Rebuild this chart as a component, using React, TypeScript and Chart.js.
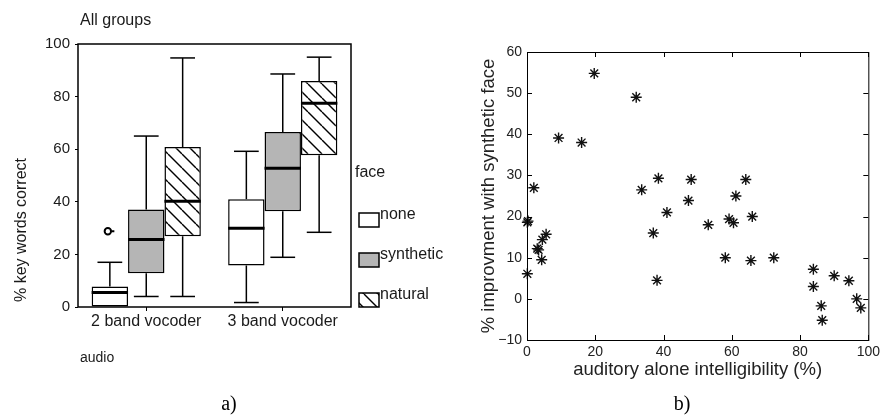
import React, { useEffect, useRef } from 'react';
import { Chart, registerables } from 'chart.js';
Chart.register(...registerables);

// ---------- panel a) box plot data ----------
const audioGroups = ['2 band vocoder', '3 band vocoder'];
const faceLabels = ['none', 'synthetic', 'natural'];
const yTicksA = [0, 20, 40, 60, 80, 100];

const noneMin = [0, 1.7];
const noneQ1 = [0, 15.8];
const noneMedian = [5.5, 29.9];
const noneQ3 = [7.8, 41];
const noneMax = [17, 59.2];
const noneOutlier = [28.8, null];

const synthMin = [4, 18.9];
const synthQ1 = [12.8, 36.4];
const synthMedian = [25.7, 52.8];
const synthQ3 = [37.1, 66.5];
const synthMax = [65, 88.6];

const naturalMin = [4, 28.4];
const naturalQ1 = [26.9, 57.7];
const naturalMedian = [40.2, 77.5];
const naturalQ3 = [60.8, 85.9];
const naturalMax = [94.7, 95];

// ---------- panel b) scatter data ----------
const intelligibility = [19.7, 32.0, 9.25, 16.0, 2.0, 0.1, 0.3, 0.1, 3.0, 3.4, 4.3, 4.5, 5.6, 33.6, 38.5, 48.1, 47.3, 41.0, 37.0, 38.1, 53.1, 59.2, 60.5, 61.2, 64.1, 66.0, 58.1, 65.6, 72.3, 83.9, 83.9, 86.2, 86.5, 90.0, 94.3, 96.6, 97.8];
const improvement = [54.8, 49.0, 39.1, 38.0, 27.0, 18.6, 18.9, 6.1, 12.2, 11.9, 9.5, 14.4, 15.7, 26.5, 29.3, 29.0, 23.9, 21.0, 16.0, 4.5, 18.0, 19.4, 18.5, 25.0, 29.0, 20.0, 10.0, 9.3, 10.0, 7.2, 3.0, -1.7, -5.2, 5.6, 4.4, 0.0, -2.2];

const SANS = '"Liberation Sans", Arial, Helvetica, sans-serif';
const SERIF = '"Liberation Serif", "DejaVu Serif", serif';

function makeHatch(): CanvasPattern | string {
  const s = 14;
  const c = document.createElement('canvas');
  c.width = s;
  c.height = s;
  const g = c.getContext('2d');
  if (!g) return '#fff';
  g.fillStyle = '#fff';
  g.fillRect(0, 0, s, s);
  g.strokeStyle = '#000';
  g.lineWidth = 1.4;
  for (const k of [-s, 0, s]) {
    g.beginPath();
    g.moveTo(k, 0);
    g.lineTo(k + s, s);
    g.stroke();
  }
  return g.createPattern(c, 'repeat') || '#fff';
}

function leftConfig(): any {
  const hatch = makeHatch();
  const stats = [
    [noneMin, noneQ1, noneMedian, noneQ3, noneMax],
    [synthMin, synthQ1, synthMedian, synthQ3, synthMax],
    [naturalMin, naturalQ1, naturalMedian, naturalQ3, naturalMax],
  ];
  const fills: any[] = ['#ffffff', '#b5b5b5', hatch];
  const boxPlugin = {
    id: 'boxWhiskers',
    afterDatasetsDraw(chart: any) {
      const ctx = chart.ctx;
      const ys = chart.scales.y;
      ctx.save();
      ctx.strokeStyle = '#000';
      chart.data.datasets.forEach((_ds: any, i: number) => {
        const meta = chart.getDatasetMeta(i);
        meta.data.forEach((el: any, j: number) => {
          const { x, width } = el.getProps(['x', 'width'], true);
          const [mn, q1, md, q3, mx] = stats[i].map((a) => a[j]);
          const cap = width * 0.34;
          ctx.lineWidth = 1.5;
          const seg = (x1: number, y1: number, x2: number, y2: number) => {
            ctx.beginPath();
            ctx.moveTo(x1, y1);
            ctx.lineTo(x2, y2);
            ctx.stroke();
          };
          if (mx > q3) {
            seg(x, ys.getPixelForValue(q3), x, ys.getPixelForValue(mx));
            seg(x - cap, ys.getPixelForValue(mx), x + cap, ys.getPixelForValue(mx));
          }
          if (mn < q1) {
            seg(x, ys.getPixelForValue(q1), x, ys.getPixelForValue(mn));
            seg(x - cap, ys.getPixelForValue(mn), x + cap, ys.getPixelForValue(mn));
          }
          ctx.lineWidth = 3;
          seg(x - width / 2, ys.getPixelForValue(md), x + width / 2, ys.getPixelForValue(md));
          if (i === 0 && noneOutlier[j] != null) {
            const oy = ys.getPixelForValue(noneOutlier[j] as number);
            ctx.lineWidth = 2;
            ctx.beginPath();
            ctx.arc(x - 2, oy, 3.2, 0, Math.PI * 2);
            ctx.stroke();
            seg(x + 1.5, oy, x + 4.5, oy);
          }
        });
      });
      ctx.restore();
    },
    afterDraw(chart: any) {
      const ctx = chart.ctx;
      const a = chart.chartArea;
      ctx.save();
      ctx.strokeStyle = '#000';
      ctx.lineWidth = 1.5;
      ctx.strokeRect(a.left, a.top, a.right - a.left, a.bottom - a.top);
      ctx.fillStyle = '#1a1a1a';
      ctx.font = `16px ${SANS}`;
      ctx.textAlign = 'left';
      ctx.textBaseline = 'alphabetic';
      ctx.fillText('All groups', 80, 25);
      ctx.textBaseline = 'middle';
      ctx.fillText('face', 355, 173);
      ctx.font = `14px ${SANS}`;
      ctx.fillText('audio', 80, 358);
      // legend
      const tops = [213, 253, 293];
      faceLabels.forEach((lab, i) => {
        ctx.fillStyle = fills[i];
        ctx.fillRect(359, tops[i], 20, 14);
        ctx.lineWidth = 1.5;
        ctx.strokeStyle = '#000';
        ctx.strokeRect(359, tops[i], 20, 14);
        ctx.fillStyle = '#1a1a1a';
        ctx.font = `16px ${SANS}`;
        ctx.textBaseline = 'middle';
        ctx.fillText(lab, 380, tops[i] + 2);
      });
      // y title
      ctx.save();
      ctx.translate(22, 230);
      ctx.rotate(-Math.PI / 2);
      ctx.textAlign = 'center';
      ctx.textBaseline = 'middle';
      ctx.font = `16px ${SANS}`;
      ctx.fillText('% key words correct', 0, 0);
      ctx.restore();
      // panel label
      ctx.font = `20px ${SERIF}`;
      ctx.textAlign = 'center';
      ctx.textBaseline = 'middle';
      ctx.fillStyle = '#000';
      ctx.fillText('a)', 229, 405);
      ctx.restore();
    },
  };

  const dataset = (label: string, q1: number[], q3: number[], fill: any) => ({
    label,
    data: q1.map((v, k) => [v, q3[k]]),
    backgroundColor: fill,
    borderColor: '#000',
    borderWidth: 1.5,
    borderSkipped: false,
    categoryPercentage: 0.8,
    barPercentage: 1.0,
  });

  return {
    type: 'bar',
    data: {
      labels: audioGroups,
      datasets: [
        dataset(faceLabels[0], noneQ1, noneQ3, fills[0]),
        dataset(faceLabels[1], synthQ1, synthQ3, fills[1]),
        dataset(faceLabels[2], naturalQ1, naturalQ3, fills[2]),
      ],
    },
    options: {
      responsive: false,
      animation: false,
      devicePixelRatio: 1,
      layout: { padding: { left: 0, top: 44, right: 109, bottom: 0 } },
      plugins: { legend: { display: false }, tooltip: { enabled: false } },
      scales: {
        x: {
          grid: { display: true, drawOnChartArea: false, drawTicks: true, tickLength: 4, color: '#000', offset: false },
          border: { display: false },
          ticks: { color: '#1a1a1a', font: { family: SANS, size: 16 }, padding: 1, maxRotation: 0 },
          afterFit: (s: any) => { s.height = 109; },
        },
        y: {
          min: 0,
          max: 100,
          afterBuildTicks: (s: any) => { s.ticks = yTicksA.map((v) => ({ value: v })); },
          grid: { display: true, drawOnChartArea: false, drawTicks: true, tickLength: 3, color: '#000' },
          border: { display: false },
          ticks: { color: '#1a1a1a', font: { family: SANS, size: 15 }, padding: 5 },
          afterFit: (s: any) => { s.width = 78; },
        },
      },
    },
    plugins: [boxPlugin],
  };
}

function rightConfig(): any {
  const framePlugin = {
    id: 'matlabFrame',
    afterDraw(chart: any) {
      const ctx = chart.ctx;
      const a = chart.chartArea;
      const xs = chart.scales.x;
      const ys = chart.scales.y;
      ctx.save();
      ctx.strokeStyle = '#000';
      ctx.lineWidth = 1;
      ctx.strokeRect(a.left + 0.5, a.top + 0.5, a.right - a.left, a.bottom - a.top);
      const tl = 5;
      xs.ticks.forEach((t: any) => {
        const px = Math.round(xs.getPixelForValue(t.value)) + 0.5;
        ctx.beginPath();
        ctx.moveTo(px, a.bottom);
        ctx.lineTo(px, a.bottom - tl);
        ctx.moveTo(px, a.top);
        ctx.lineTo(px, a.top + tl);
        ctx.stroke();
      });
      ys.ticks.forEach((t: any) => {
        const py = Math.round(ys.getPixelForValue(t.value)) + 0.5;
        ctx.beginPath();
        ctx.moveTo(a.left, py);
        ctx.lineTo(a.left + tl, py);
        ctx.moveTo(a.right, py);
        ctx.lineTo(a.right - tl, py);
        ctx.stroke();
      });
      ctx.fillStyle = '#000';
      ctx.font = `20px ${SERIF}`;
      ctx.textAlign = 'center';
      ctx.textBaseline = 'middle';
      ctx.fillText('b)', 222, 405);
      ctx.restore();
    },
  };

  return {
    type: 'scatter',
    data: {
      datasets: [
        {
          label: 'subjects',
          data: intelligibility.map((x, i) => ({ x, y: improvement[i] })),
          pointStyle: 'star',
          pointRadius: 5.5,
          borderColor: '#111',
          backgroundColor: 'rgba(0,0,0,0)',
          borderWidth: 1.4,
          clip: false,
        },
      ],
    },
    options: {
      responsive: false,
      animation: false,
      devicePixelRatio: 1,
      layout: { padding: { left: 0, top: 52, right: 11, bottom: 0 } },
      plugins: { legend: { display: false }, tooltip: { enabled: false } },
      scales: {
        x: {
          type: 'linear',
          min: 0,
          max: 100,
          ticks: { stepSize: 20, color: '#222', font: { family: SANS, size: 14 }, padding: 4, maxRotation: 0 },
          grid: { display: false, drawTicks: false },
          border: { display: false },
          title: {
            display: true,
            text: 'auditory alone intelligibility (%)',
            color: '#222',
            font: { family: SANS, size: 18.5, lineHeight: 1.2 },
            padding: { top: 0, bottom: 35 },
          },
          afterFit: (s: any) => { s.height = 76; },
        },
        y: {
          type: 'linear',
          min: -10,
          max: 60,
          ticks: {
            stepSize: 10,
            color: '#222',
            font: { family: SANS, size: 14 },
            padding: 5,
            callback: (v: any) => (v < 0 ? '\u2212' + Math.abs(v) : String(v)),
          },
          grid: { display: false, drawTicks: false },
          border: { display: false },
          title: {
            display: true,
            text: '% improvment with synthetic face',
            color: '#222',
            font: { family: SANS, size: 18.5, lineHeight: 1.2 },
            padding: { top: 18, bottom: 0 },
          },
          afterFit: (s: any) => { s.width = 67; },
        },
      },
    },
    plugins: [framePlugin],
  };
}

export default function App() {
  const leftRef = useRef<HTMLCanvasElement>(null);
  const rightRef = useRef<HTMLCanvasElement>(null);
  useEffect(() => {
    const c1 = new Chart(leftRef.current as HTMLCanvasElement, leftConfig());
    const c2 = new Chart(rightRef.current as HTMLCanvasElement, rightConfig());
    return () => {
      c1.destroy();
      c2.destroy();
    };
  }, []);
  return (
    <div style={{ position: 'fixed', left: 0, top: 0, width: 884, height: 416, background: '#fff' }}>
      <canvas ref={leftRef} width={460} height={416} style={{ position: 'absolute', left: 0, top: 0 }} />
      <canvas ref={rightRef} width={424} height={416} style={{ position: 'absolute', left: 460, top: 0 }} />
    </div>
  );
}
